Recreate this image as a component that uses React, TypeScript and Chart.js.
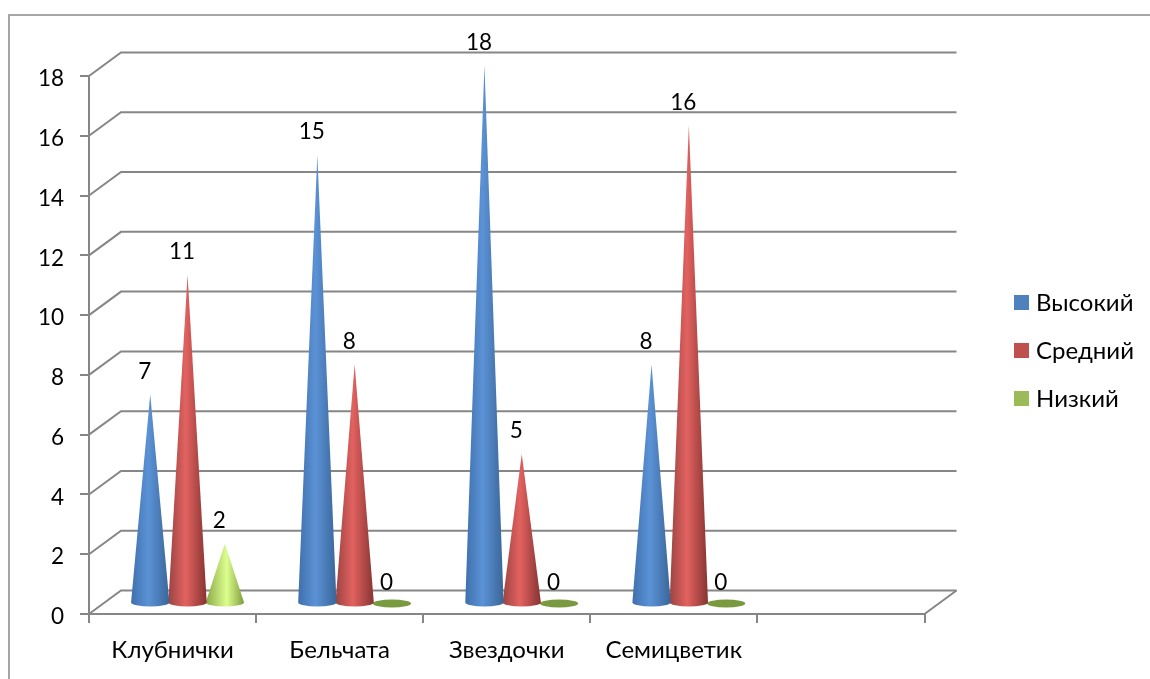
import React, { useEffect, useRef } from "react";
import { Chart, registerables } from "chart.js";

Chart.register(...registerables);

const categories = ["Клубнички", "Бельчата", "Звездочки", "Семицветик", ""];
const high = [7, 15, 18, 8, null];
const medium = [11, 8, 5, 16, null];
const low = [2, 0, 0, 0, null];
const seriesNames = ["Высокий", "Средний", "Низкий"];
const legendColors = ["#4f81bd", "#c0504d", "#9bbb59"];
const coneStops = [
  ["#3f70ac", "#5b92d6", "#3a6699"],
  ["#9a4442", "#e26260", "#863432"],
  ["#8aa948", "#dcff8e", "#7f9c3c"],
];
const flatColors = ["#3a6ba8", "#94403e", "#7a9a40"];

const FONT = "Lato, 'Open Sans', sans-serif";
const TEXT_SIZE = 24;
const NUMBER_SIZE = 22.5;
const GRID = "#868686";
const DEPTH_X = 32;
const DEPTH_Y = 23.5;
const CONE_DX = 15;
const CONE_DY = -10.5;
const BASE_RY = 4;

const scene = {
  id: "scene",
  beforeDraw(chart: any) {
    const { ctx, chartArea: a, scales } = chart;
    ctx.save();
    ctx.strokeStyle = "#a6a6a6";
    ctx.lineWidth = 2;
    ctx.beginPath();
    ctx.moveTo(9, 679);
    ctx.lineTo(9, 15);
    ctx.lineTo(1150, 15);
    ctx.stroke();
    ctx.strokeStyle = GRID;
    ctx.lineWidth = 2;
    for (const t of scales.y.ticks) {
      const y = scales.y.getPixelForValue(t.value);
      ctx.beginPath();
      ctx.moveTo(a.left, y);
      ctx.lineTo(a.left + DEPTH_X, y - DEPTH_Y);
      ctx.lineTo(a.right + DEPTH_X, y - DEPTH_Y);
      ctx.stroke();
    }
    ctx.beginPath();
    ctx.moveTo(a.right, a.bottom);
    ctx.lineTo(a.right + DEPTH_X, a.bottom - DEPTH_Y);
    ctx.stroke();
    ctx.restore();
  },
  beforeDatasetDraw(chart: any, args: any) {
    const { ctx } = chart;
    const meta = args.meta;
    const idx = args.index;
    const stops = coneStops[idx];
    ctx.save();
    meta.data.forEach((el: any, i: number) => {
      const v = chart.data.datasets[idx].data[i];
      if (v === null || v === undefined) return;
      const cx = el.x + CONE_DX;
      const tip = el.y + CONE_DY;
      const base = el.base + CONE_DY;
      const r = el.width / 2 + 0.5;
      if (v === 0) {
        ctx.fillStyle = flatColors[idx];
        ctx.beginPath();
        ctx.ellipse(cx, base, r, BASE_RY, 0, 0, Math.PI * 2);
        ctx.fill();
      } else {
        const g = ctx.createLinearGradient(cx - r, 0, cx + r, 0);
        g.addColorStop(0, stops[0]);
        g.addColorStop(idx === 2 ? 0.55 : 0.45, stops[1]);
        g.addColorStop(1, stops[2]);
        ctx.fillStyle = g;
        ctx.beginPath();
        ctx.moveTo(cx, tip);
        ctx.lineTo(cx + r, base);
        ctx.ellipse(cx, base, r, BASE_RY, 0, 0, Math.PI);
        ctx.closePath();
        ctx.fill();
      }
      ctx.fillStyle = "#000";
      ctx.font = `${NUMBER_SIZE}px ${FONT}`;
      ctx.textAlign = "center";
      ctx.textBaseline = "middle";
      ctx.fillText(String(v), cx - 5.5, tip - (v === 0 ? 21 : 23));
    });
    ctx.restore();
    return false;
  },
  afterDraw(chart: any) {
    const { ctx } = chart;
    ctx.save();
    ctx.font = `${TEXT_SIZE}px ${FONT}`;
    ctx.textAlign = "left";
    ctx.textBaseline = "middle";
    chart.data.datasets.forEach((d: any, i: number) => {
      const top = 295 + i * 48;
      ctx.fillStyle = d.backgroundColor;
      ctx.fillRect(1014, top, 15, 15);
      ctx.fillStyle = "#000";
      ctx.fillText(d.label, 1036, top + 8);
    });
    ctx.restore();
  },
};

export default function App() {
  const ref = useRef<HTMLCanvasElement>(null);
  useEffect(() => {
    const chart = new Chart(ref.current!, {
      type: "bar",
      data: {
        labels: categories,
        datasets: [high, medium, low].map((data, i) => ({
          label: seriesNames[i],
          data,
          backgroundColor: legendColors[i],
          barPercentage: 1,
          categoryPercentage: 0.67,
        })),
      },
      options: {
        responsive: false,
        animation: false,
        layout: { padding: { top: 76, right: 225.5, left: 0, bottom: 0 } },
        plugins: { legend: { display: false }, tooltip: { enabled: false } },
        scales: {
          x: {
            afterFit: (s: any) => { s.height = 65; },
            grid: { color: GRID, lineWidth: 2, drawOnChartArea: false, tickLength: 9, offset: true },
            border: { color: GRID, width: 2 },
            ticks: { color: "#000", font: { family: FONT, size: TEXT_SIZE }, padding: 13, maxRotation: 0, autoSkip: false },
          },
          y: {
            min: 0,
            max: 18,
            afterFit: (s: any) => { s.width = 89; },
            grid: { color: GRID, lineWidth: 2, drawOnChartArea: false, tickLength: 9 },
            border: { color: GRID, width: 2 },
            ticks: { stepSize: 2, color: "#000", font: { family: FONT, size: NUMBER_SIZE }, padding: 16, labelOffset: 3 },
          },
        },
      } as any,
      plugins: [scene],
    });
    return () => chart.destroy();
  }, []);
  return (
    <div style={{ position: "absolute", left: 0, top: 0, width: 1150, height: 679, background: "#fff" }}>
      <canvas ref={ref} width={1150} height={679} style={{ display: "block" }} />
    </div>
  );
}
